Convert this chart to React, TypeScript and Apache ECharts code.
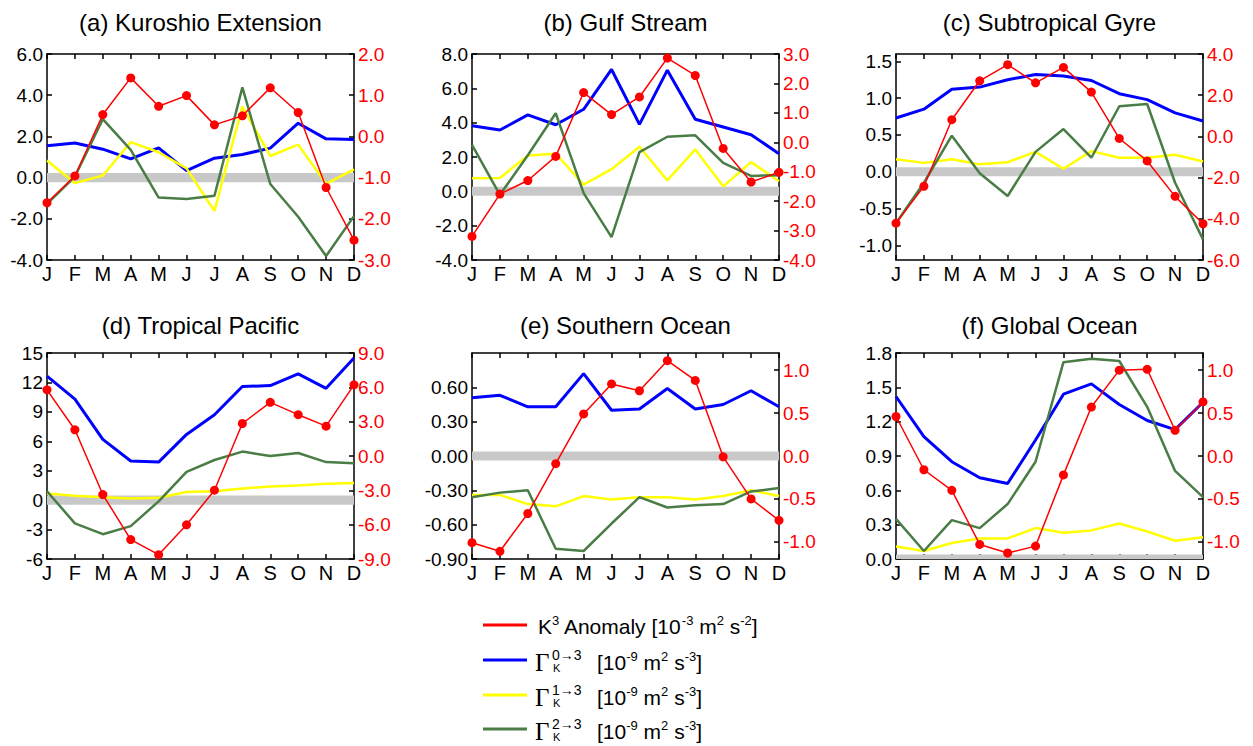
import React, { useEffect, useRef } from 'react';
import * as echarts from 'echarts';

const months = ['J', 'F', 'M', 'A', 'M', 'J', 'J', 'A', 'S', 'O', 'N', 'D'];
const titles = ['(a) Kuroshio Extension', '(b) Gulf Stream', '(c) Subtropical Gyre', '(d) Tropical Pacific', '(e) Southern Ocean', '(f) Global Ocean'];

// (a) Kuroshio Extension
const keG0 = [1.55, 1.68, 1.38, 0.91, 1.44, 0.34, 0.94, 1.12, 1.43, 2.64, 1.88, 1.85];
const keG1 = [0.83, -0.27, 0.1, 1.72, 1.23, 0.45, -1.62, 3.45, 1.05, 1.6, -0.3, 0.4];
const keG2 = [-1.28, 0.05, 2.84, 1.35, -0.97, -1.04, -0.88, 4.38, -0.31, -1.9, -3.81, -1.87];
const keK3 = [-1.61, -0.96, 0.53, 1.42, 0.73, 0.99, 0.28, 0.5, 1.18, 0.58, -1.24, -2.52];
// (b) Gulf Stream
const gsG0 = [3.82, 3.57, 4.45, 3.88, 4.78, 7.1, 3.9, 7.06, 4.2, 3.75, 3.3, 2.19];
const gsG1 = [0.76, 0.78, 2.09, 2.19, 0.39, 1.29, 2.6, 0.64, 2.44, 0.29, 1.7, 0.59];
const gsG2 = [2.71, -0.2, 2.1, 4.55, -0.1, -2.67, 2.28, 3.18, 3.26, 1.66, 0.9, 0.94];
const gsK3 = [-3.2, -1.76, -1.3, -0.48, 1.69, 0.94, 1.54, 2.86, 2.27, -0.21, -1.35, -1.02];
// (c) Subtropical Gyre
const sgG0 = [0.73, 0.85, 1.12, 1.15, 1.25, 1.32, 1.3, 1.24, 1.06, 0.98, 0.8, 0.69];
const sgG1 = [0.17, 0.12, 0.17, 0.1, 0.13, 0.27, 0.04, 0.28, 0.19, 0.19, 0.23, 0.14];
const sgG2 = [-0.7, -0.15, 0.49, -0.02, -0.33, 0.27, 0.58, 0.19, 0.89, 0.92, -0.15, -0.92];
const sgK3 = [-4.21, -2.42, 0.81, 2.7, 3.48, 2.6, 3.35, 2.15, -0.1, -1.19, -2.91, -4.24];
// (d) Tropical Pacific
const tpG0 = [12.64, 10.3, 6.2, 3.99, 3.88, 6.7, 8.7, 11.58, 11.68, 12.88, 11.4, 14.48];
const tpG1 = [0.67, 0.45, 0.3, 0.16, 0.25, 0.84, 0.9, 1.18, 1.39, 1.49, 1.66, 1.76];
const tpG2 = [0.91, -2.37, -3.47, -2.65, -0.12, 2.89, 4.09, 4.95, 4.5, 4.81, 3.88, 3.75];
const tpK3 = [5.78, 2.29, -3.37, -7.3, -8.62, -6.01, -2.99, 2.84, 4.69, 3.61, 2.61, 6.22];
// (e) Southern Ocean
const soG0 = [0.51, 0.53, 0.43, 0.43, 0.72, 0.4, 0.41, 0.59, 0.41, 0.45, 0.57, 0.43];
const soG1 = [-0.34, -0.34, -0.42, -0.44, -0.35, -0.38, -0.36, -0.36, -0.38, -0.35, -0.3, -0.35];
const soG2 = [-0.36, -0.32, -0.3, -0.81, -0.83, -0.59, -0.36, -0.45, -0.43, -0.42, -0.31, -0.28];
const soK3 = [-1.01, -1.11, -0.67, -0.09, 0.49, 0.84, 0.76, 1.11, 0.88, -0.01, -0.5, -0.75];
// (f) Global Ocean
const goG0 = [1.42, 1.07, 0.85, 0.71, 0.66, 1.04, 1.44, 1.53, 1.35, 1.21, 1.13, 1.37];
const goG1 = [0.11, 0.07, 0.14, 0.18, 0.18, 0.27, 0.23, 0.25, 0.31, 0.24, 0.16, 0.19];
const goG2 = [0.35, 0.07, 0.34, 0.27, 0.48, 0.85, 1.72, 1.75, 1.73, 1.33, 0.77, 0.54];
const goK3 = [0.46, -0.16, -0.4, -1.03, -1.13, -1.05, -0.22, 0.57, 1.0, 1.01, 0.3, 0.63];

// Axis ranges and tick labels
const aLeftRange = [-4, 6];
const aLeftTicks = [-4, -2, 0, 2, 4, 6];
const aRightRange = [-3, 2];
const aRightTicks = [-3, -2, -1, 0, 1, 2];
const bLeftRange = [-4, 8];
const bLeftTicks = [-4, -2, 0, 2, 4, 6, 8];
const bRightRange = [-4, 3];
const bRightTicks = [-4, -3, -2, -1, 0, 1, 2, 3];
const cLeftRange = [-1.2, 1.6];
const cLeftTicks = [-1, -0.5, 0, 0.5, 1, 1.5];
const cRightRange = [-6, 4];
const cRightTicks = [-6, -4, -2, 0, 2, 4];
const dLeftRange = [-6, 15];
const dLeftTicks = [-6, -3, 0, 3, 6, 9, 12, 15];
const dRightRange = [-9, 9];
const dRightTicks = [-9, -6, -3, 0, 3, 6, 9];
const eLeftRange = [-0.9, 0.9];
const eLeftTicks = [-0.9, -0.6, -0.3, 0, 0.3, 0.6];
const eRightRange = [-1.2, 1.2];
const eRightTicks = [-1, -0.5, 0, 0.5, 1];
const fLeftRange = [0, 1.8];
const fLeftTicks = [0, 0.3, 0.6, 0.9, 1.2, 1.5, 1.8];
const fRightRange = [-1.2, 1.2];
const fRightTicks = [-1, -0.5, 0, 0.5, 1];

const legendLabels = ['K3 Anomaly', 'Γ K 0→3', 'Γ K 1→3', 'Γ K 2→3'];
const legendSups = ['0→3', '1→3', '2→3'];

const FONT = "'Liberation Sans', Arial, Helvetica, sans-serif";
const COLORS = { g0: '#0000ff', g1: '#ffff00', g2: '#4a7d45', k3: '#ff0000', band: '#c8c8c8' };

const panels = [
  { title: titles[0], g0: keG0, g1: keG1, g2: keG2, k3: keK3, lr: aLeftRange, lt: aLeftTicks, ld: 1, rr: aRightRange, rt: aRightTicks, rd: 1 },
  { title: titles[1], g0: gsG0, g1: gsG1, g2: gsG2, k3: gsK3, lr: bLeftRange, lt: bLeftTicks, ld: 1, rr: bRightRange, rt: bRightTicks, rd: 1 },
  { title: titles[2], g0: sgG0, g1: sgG1, g2: sgG2, k3: sgK3, lr: cLeftRange, lt: cLeftTicks, ld: 1, rr: cRightRange, rt: cRightTicks, rd: 1 },
  { title: titles[3], g0: tpG0, g1: tpG1, g2: tpG2, k3: tpK3, lr: dLeftRange, lt: dLeftTicks, ld: 0, rr: dRightRange, rt: dRightTicks, rd: 1 },
  { title: titles[4], g0: soG0, g1: soG1, g2: soG2, k3: soK3, lr: eLeftRange, lt: eLeftTicks, ld: 2, rr: eRightRange, rt: eRightTicks, rd: 1 },
  { title: titles[5], g0: goG0, g1: goG1, g2: goG2, k3: goK3, lr: fLeftRange, lt: fLeftTicks, ld: 1, rr: fRightRange, rt: fRightTicks, rd: 1 },
];

const gridLefts = [47, 472, 896];
const gridTops = [54, 353];
const gridW = 307;
const gridH = 206;
const titleY = [22, 325];

export default function App() {
  const ref = useRef<HTMLDivElement>(null);
  useEffect(() => {
    if (!ref.current) return;
    const chart = echarts.init(ref.current, null, { renderer: 'svg' });
    const grid: any[] = [];
    const xAxis: any[] = [];
    const yAxis: any[] = [];
    const series: any[] = [];
    const graphic: any[] = [];
    const axisLine = { show: true, onZero: false, lineStyle: { color: '#000', width: 1.5 } };
    const tickStyle = { color: '#000', width: 1.5 };

    panels.forEach((p, i) => {
      const col = i % 3;
      const row = Math.floor(i / 3);
      const left = gridLefts[col];
      const top = gridTops[row];
      grid.push({ left, top, width: gridW, height: gridH, containLabel: false });
      xAxis.push({
        type: 'category', gridIndex: i, data: months, boundaryGap: false, position: 'bottom',
        axisLine, axisTick: { show: true, inside: true, length: 5, interval: 0, lineStyle: tickStyle },
        axisLabel: { interval: 0, margin: 4, color: '#000', fontSize: 20, fontFamily: FONT },
        splitLine: { show: false },
      });
      xAxis.push({
        type: 'category', gridIndex: i, data: months, boundaryGap: false, position: 'top',
        axisLine, axisTick: { show: true, inside: true, length: 5, interval: 0, lineStyle: tickStyle },
        axisLabel: { show: false }, splitLine: { show: false },
      });
      yAxis.push({
        type: 'value', gridIndex: i, position: 'left', min: p.lr[0], max: p.lr[1],
        axisLine, axisTick: { show: true, inside: true, length: 5, customValues: p.lt, lineStyle: tickStyle },
        axisLabel: { customValues: p.lt, color: '#000', fontSize: 19, fontFamily: FONT, margin: 4,
          formatter: (v: number) => Number(v).toFixed(p.ld) },
        splitLine: { show: false },
      });
      yAxis.push({
        type: 'value', gridIndex: i, position: 'right', min: p.rr[0], max: p.rr[1],
        axisLine, axisTick: { show: true, inside: true, length: 5, customValues: p.rt, lineStyle: tickStyle },
        axisLabel: { customValues: p.rt, color: '#ff0000', fontSize: 19, fontFamily: FONT, margin: 4,
          formatter: (v: number) => Number(v).toFixed(p.rd) },
        splitLine: { show: false },
      });
      const h = (p.lr[1] - p.lr[0]) * 0.022;
      const lo = Math.max(p.lr[0], -h);
      const hi = Math.min(p.lr[1], h);
      const base = { type: 'line', xAxisIndex: 2 * i, yAxisIndex: 2 * i, showSymbol: false, symbol: 'none', silent: true };
      series.push({
        ...base, name: legendLabels[1], data: p.g0, z: 3,
        lineStyle: { color: COLORS.g0, width: 3 }, itemStyle: { color: COLORS.g0 },
        markArea: { silent: true, z: 1, itemStyle: { color: COLORS.band }, data: [[{ yAxis: lo }, { yAxis: hi }]] },
      });
      series.push({ ...base, name: legendLabels[2], data: p.g1, z: 3, lineStyle: { color: COLORS.g1, width: 2.5 }, itemStyle: { color: COLORS.g1 } });
      series.push({ ...base, name: legendLabels[3], data: p.g2, z: 3, lineStyle: { color: COLORS.g2, width: 2.5 }, itemStyle: { color: COLORS.g2 } });
      series.push({
        type: 'line', xAxisIndex: 2 * i, yAxisIndex: 2 * i + 1, name: legendLabels[0], data: p.k3, z: 4, silent: true,
        symbol: 'circle', symbolSize: 9, showSymbol: true,
        lineStyle: { color: COLORS.k3, width: 1.5 }, itemStyle: { color: COLORS.k3 },
      });
      graphic.push({
        type: 'text', x: left + gridW / 2, y: titleY[row],
        style: { text: p.title, fontSize: 24, fontFamily: FONT, fill: '#000', align: 'center', verticalAlign: 'middle' },
      });
    });

    // legend
    const rowsY = [625, 660, 695, 729];
    const legColors = [COLORS.k3, COLORS.g0, COLORS.g1, COLORS.g2];
    const rich = {
      n: { fontSize: 21, lineHeight: 24, fontFamily: FONT, fill: '#000' },
      s: { fontSize: 13, lineHeight: 13, verticalAlign: 'top', fontFamily: FONT, fill: '#000' },
    };
    rowsY.forEach((y, k) => {
      graphic.push({ type: 'line', shape: { x1: 483, y1: y, x2: 527, y2: y }, style: { stroke: legColors[k], lineWidth: 3 } });
    });
    graphic.push({
      type: 'text', x: 538, y: rowsY[0] + 1,
      style: { text: '{n|K}{s|3}{n| Anomaly [10}{s|-3}{n| m}{s|2}{n| s}{s|-2}{n|]}', rich, verticalAlign: 'middle', align: 'left' },
    });
    legendSups.forEach((sup, k) => {
      const y = rowsY[k + 1] + 2;
      graphic.push({ type: 'text', x: 535, y, style: { text: 'Γ', fontSize: 25, fontFamily: "'Liberation Serif', 'DejaVu Serif', serif", fill: '#000', verticalAlign: 'middle' } });
      graphic.push({ type: 'text', x: 552, y: y - 7, style: { text: sup, fontSize: 14, fontFamily: FONT, fill: '#000', verticalAlign: 'middle' } });
      graphic.push({ type: 'text', x: 553, y: y + 6, style: { text: 'K', fontSize: 11, fontFamily: FONT, fill: '#000', verticalAlign: 'middle' } });
      graphic.push({
        type: 'text', x: 597, y,
        style: { text: '{n|[10}{s|-9}{n| m}{s|2}{n| s}{s|-3}{n|]}', rich, verticalAlign: 'middle', align: 'left' },
      });
    });

    chart.setOption({
      animation: false,
      backgroundColor: '#ffffff',
      grid, xAxis, yAxis, series, graphic,
    });
    return () => chart.dispose();
  }, []);
  return <div ref={ref} style={{ position: 'absolute', left: 0, top: 0, width: 1253, height: 746, background: '#fff' }} />;
}
